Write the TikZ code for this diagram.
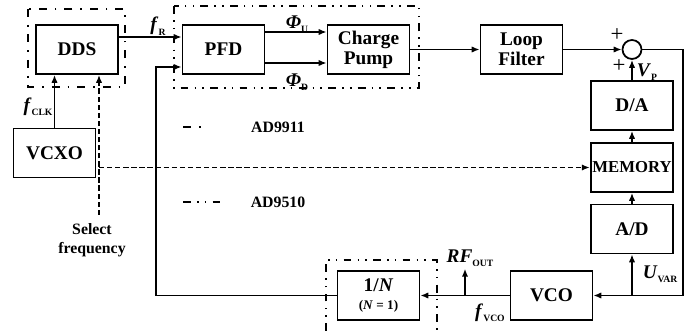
\documentclass[tikz,border=0pt]{standalone}
\usepackage{fontspec}
\setmainfont{Liberation Serif}
\usetikzlibrary{arrows.meta,calc}
\newcommand{\sigl}[2]{\textbf{\textit{#1}}\raisebox{-0.5ex}{\fontsize{5.5}{6}\selectfont\bfseries #2}}

\begin{document}
\begin{tikzpicture}[x=0.02cm,y=-0.02cm,
	blk/.style={draw,line width=1pt,minimum width=1.64cm,minimum height=0.98cm,inner sep=1pt,align=center,font=\fontsize{11}{11.5}\selectfont\bfseries},
	sig/.style={line width=1pt,-{Latex[length=4.5pt,width=3.6pt]}},
	sel/.style={line width=1pt,dash pattern=on 3pt off 1.6pt},
	ddot/.style={line width=1pt,dash pattern=on 4.5pt off 4.5pt on 1pt off 4.5pt},
	dddot/.style={line width=1pt,dash pattern=on 4.5pt off 3.5pt on 0.9pt off 3.5pt on 0.9pt off 3.5pt},
	lbl/.style={font=\fontsize{11}{12}\selectfont,inner sep=1pt}]
				\useasboundingbox (0,0) rectangle (691,331);
				\node[blk] (DDS) at (77,49.5) {DDS};
				\node[blk] (PFD) at (223.5,49.5) {PFD};
				\node[blk] (CP) at (368.5,49.5) {Charge\\Pump};
				\node[blk] (LF) at (521.5,49.5) {Loop\\Filter};
				\node[draw,circle,line width=1pt,minimum size=0.38cm,inner sep=0pt] (sum) at (632,49.5) {};
				\node[blk] (DA) at (632,105.5) {D/A};
				\node[blk,font=\fontsize{9.5}{11}\selectfont\bfseries] (MEM) at (632,167.5) {MEMORY};
				\node[blk] (AD) at (632,229) {A/D};
				\node[blk] (VCO) at (551.5,295.5) {VCO};
				\node[blk] (DIV) at (378.5,295.5) {1/\textit{N}\\[-1pt]{\fontsize{7.5}{8}\selectfont(\textit{N} = 1)}};
				\node[blk] (VCXO) at (54.5,153) {VCXO};
				\node[font=\fontsize{9}{10.5}\selectfont\bfseries,align=center] (SEL) at (92,240) {Select\\frequency};
				\draw[ddot] (28,9) rectangle (125,87);
				\draw[dddot] (174,6) rectangle (419,88);
				\draw[dddot] (326,331) -- (326,260) -- (437,260) -- (437,331);
				\draw[ddot] (183,127) -- (208,127);
				\draw[dddot] (183,202) -- (221,202);
				\node[font=\fontsize{9}{10}\selectfont\bfseries] (L1) at (278,127) {AD9911};
				\node[font=\fontsize{9}{10}\selectfont\bfseries] (L2) at (278,202) {AD9510};
				\draw[sig] ([yshift=0.25cm]DDS.east) -- ([yshift=0.25cm]PFD.west);
				\draw[sig] ([yshift=0.35cm]PFD.east) -- ([yshift=0.35cm]CP.west);
				\draw[sig] ([yshift=-0.27cm]PFD.east) -- ([yshift=-0.27cm]CP.west);
				\draw[sig] (CP.east) -- (LF.west);
				\draw[sig] (LF.east) -- (sum.west);
				\draw[sig] (DA.north) -- (sum.south);
				\draw[sig] (MEM.north) -- (DA.south);
				\draw[sig] (AD.north) -- (MEM.south);
				\coordinate (rt) at (683,295.5);
				\draw[sig] (sum.east) -| (rt) -- (VCO.east);
				\draw[sig] (AD.south |- VCO.east) -- (AD.south);
				\draw[sig] (VCO.west) -- (DIV.east);
				\coordinate (fb) at (156,295.5);
				\draw[sig] (DIV.west) -- (fb) |- ([yshift=-0.35cm]PFD.west);
				\coordinate (rf) at (465,295.5);
				\node[lbl] (RF) at (470,258) {\sigl{RF}{OUT}};
				\draw[sig] (rf) -- (rf |- RF.south);
				\draw[sig] (VCXO.north) -- (VCXO.north |- DDS.south);
				\coordinate (sf) at (99,215);
				\draw[sel,-{Latex[length=4.5pt,width=3.6pt]}] (sf) -- (sf |- DDS.south);
				\draw[sel,-{Latex[length=4.5pt,width=3.6pt]}] (sf |- MEM.west) -- (MEM.west);
				\node[lbl] (fR) at (158,26) {\sigl{f}{R}};
				\node[lbl] (phiU) at (297,24) {\sigl{Φ}{U}};
				\node[lbl] (phiD) at (297,82) {\sigl{Φ}{D}};
				\node[lbl] (fCLK) at (38,107) {\sigl{f}{CLK}};
				\node[lbl,font=\fontsize{13}{14}\selectfont] (pl1) at (617,35) {+};
				\node[lbl,font=\fontsize{13}{14}\selectfont] (pl2) at (619,66) {+};
				\node[lbl] (VP) at (647,72) {\sigl{V}{P}};
				\node[lbl] (UVAR) at (660,274) {\sigl{U}{VAR}};
				\node[lbl] (fVCO) at (490,313) {\sigl{f}{VCO}};
			\end{tikzpicture}
\end{document}
